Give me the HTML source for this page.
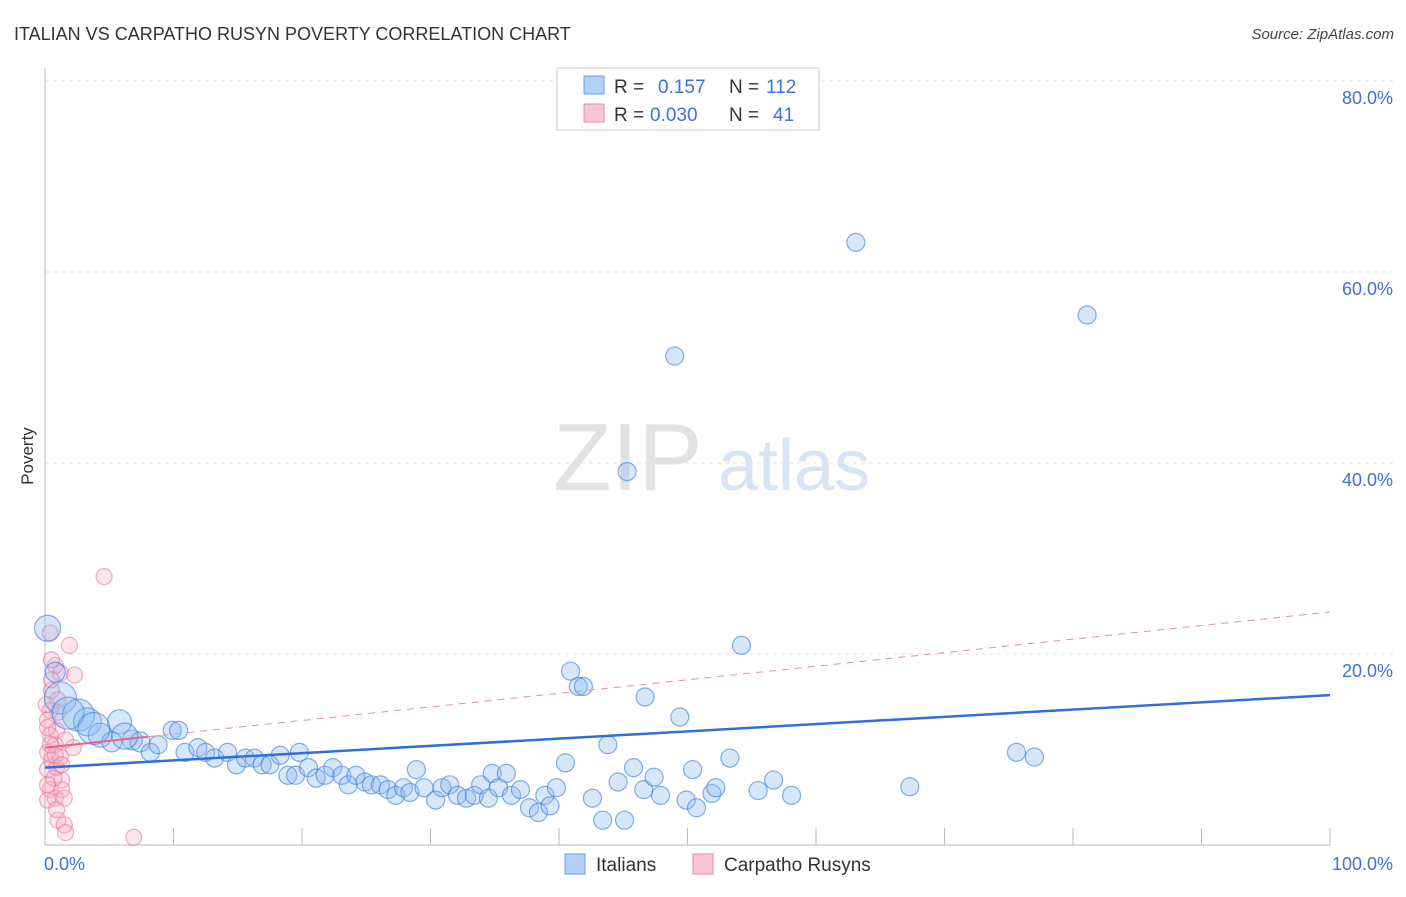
<!DOCTYPE html>
<html><head><meta charset="utf-8"><style>
body{margin:0;background:#fff;font-family:"Liberation Sans",sans-serif;}
svg text{font-family:"Liberation Sans",sans-serif;}
</style></head><body>
<svg id="chart" width="1406" height="892" xmlns="http://www.w3.org/2000/svg">
<text x="14" y="40" font-size="18" fill="#333">ITALIAN VS CARPATHO RUSYN POVERTY CORRELATION CHART</text>
<text x="1394" y="39" font-size="15" fill="#444" text-anchor="end" font-style="italic">Source: ZipAtlas.com</text>
<text x="553" y="490" font-size="96" fill="#e2e2e2" font-family="Liberation Serif">ZIP</text>
<text x="718" y="490" font-size="72" fill="#d6e4f6">atlas</text>
<text x="33" y="456" font-size="17" fill="#333" text-anchor="middle" transform="rotate(-90 33 456)">Poverty</text>
<g id="grid"></g><g id="axes"></g><g id="pts"></g><g id="lines"></g>
<g>
<rect x="557" y="68" width="262" height="62" fill="#fff" stroke="#ccc"/>
<rect x="584" y="76" width="20" height="18" fill="#b3cff5" stroke="#6d9de0"/>
<text x="614" y="93" font-size="19" fill="#333">R = </text><text x="658" y="93" font-size="19" fill="#3d72d6">0.157</text>
<text x="729" y="93" font-size="19" fill="#333">N = </text><text x="766" y="93" font-size="19" fill="#3d72d6">112</text>
<rect x="584" y="104" width="20" height="18" fill="#f9c6d4" stroke="#e98aa8"/>
<text x="614" y="121" font-size="19" fill="#333">R = </text><text x="650" y="121" font-size="19" fill="#3d72d6">0.030</text>
<text x="729" y="121" font-size="19" fill="#333">N = </text><text x="773" y="121" font-size="19" fill="#3d72d6">41</text>
</g>
<g>
<rect x="565" y="854" width="20" height="20" fill="#b3cff5" stroke="#6d9de0"/>
<text x="596" y="871" font-size="19" fill="#333">Italians</text>
<rect x="693" y="854" width="20" height="20" fill="#f9c6d4" stroke="#e98aa8"/>
<text x="724" y="871" font-size="19" fill="#333">Carpatho Rusyns</text>
</g>
</svg>
<script>
const yTicks=[20,40,60,80];
const yTickLabels=["20.0%","40.0%","60.0%","80.0%"];
const xTicks=[0,10,20,30,40,50,60,70,80,90,100];
const blueX=[0.2,0.8,1.2,2.6,3.3,4.3,5.2,5.8,6.8,7.4,8.2,8.8,9.9,10.4,10.9,11.9,12.5,13.2,14.2,14.9,15.6,16.3,16.9,17.5,18.3,18.9,19.5,19.8,20.5,21.1,21.8,22.4,23.1,23.6,24.2,24.9,25.4,26.1,26.7,27.3,27.9,28.4,28.9,29.5,30.4,30.9,31.5,32.1,32.8,33.4,33.9,34.5,34.8,35.3,35.9,36.3,37.0,37.7,38.4,38.9,39.3,39.8,40.5,40.9,41.5,41.9,42.6,43.4,43.8,44.6,45.1,45.8,46.6,46.7,47.4,47.9,49.0,49.4,49.9,50.4,50.7,51.9,52.2,53.3,54.2,55.5,56.7,58.1,63.1,67.3,75.6,77.0,81.1,45.3,1.8,3.8,6.2];
const blueY=[22.7,18.1,15.4,13.6,12.9,11.5,10.8,12.9,11.0,10.8,9.7,10.5,12.0,12.0,9.7,10.2,9.7,9.1,9.7,8.4,9.1,9.1,8.4,8.4,9.4,7.3,7.3,9.7,8.1,7.0,7.3,8.1,7.3,6.3,7.3,6.6,6.3,6.3,5.8,5.2,6.0,5.5,7.9,6.0,4.7,6.0,6.3,5.2,4.9,5.2,6.3,4.9,7.5,6.0,7.5,5.2,5.8,3.9,3.4,5.2,4.1,6.0,8.6,18.2,16.6,16.6,4.9,2.6,10.5,6.6,2.6,8.1,5.8,15.5,7.1,5.2,51.2,13.4,4.7,7.9,3.9,5.4,6.0,9.1,20.9,5.7,6.8,5.2,63.1,6.1,9.7,9.2,55.5,39.1,13.8,12.2,11.4];
const blueSize=[13,10,16,16,14,12,10,12,10,10,9,9,9,9,9,9,9,9,9,9,9,9,9,9,9,9,9,9,9,9,9,9,9,9,9,9,9,9,9,9,9,9,9,9,9,9,9,9,9,9,9,9,9,9,9,9,9,9,9,9,9,9,9,9,9,9,9,9,9,9,9,9,9,9,9,9,9,9,9,9,9,9,9,9,9,9,9,9,9,9,9,9,9,9,16,16,13];
const pinkX=[0.4,0.8,0.5,1.0,1.2,0.2,0.4,0.8,0.5,0.2,0.9,1.3,0.4,0.8,1.3,1.0,1.5,1.6,1.9,2.3,2.2,4.6,6.9,0.4,0.2,1.2,0.7,0.2,1.5,0.9,0.4,1.0,0.1,0.5,1.6,0.2,0.8,1.3,0.2,0.9,0.5];
const pinkY=[22.2,18.8,16.2,15.2,18.0,13.1,11.5,10.5,8.9,7.9,8.1,6.8,5.8,4.9,5.8,2.6,2.1,1.3,20.9,17.8,10.2,28.1,0.8,14.1,9.7,9.2,7.0,4.7,4.9,12.0,10.5,13.9,14.7,17.3,11.0,12.3,9.4,8.4,6.3,3.7,19.4];
const blueTrend=[8.1,15.7];
const pinkTrend=[10.2,24.4];
const NS="http://www.w3.org/2000/svg";
const X=v=>45+v*12.85, Y=v=>845-v*9.55;
function mk(tag,attrs,parent){const e=document.createElementNS(NS,tag);for(const k in attrs)e.setAttribute(k,attrs[k]);document.getElementById(parent).appendChild(e);return e;}
yTicks.forEach((t,i)=>{
 const g=mk('line',{x1:45,x2:1395,y1:Y(t),y2:Y(t),stroke:'#e2e2e2','stroke-dasharray':'4,4'},'grid');
 
 
 const tx=mk('text',{x:1393,y:Y(t)+23,'font-size':18,fill:'#3d72d6','text-anchor':'end'},'grid');
 tx.textContent=yTickLabels[i];
 
 
});
const ax=mk('path',{d:'M45,68V845H1330',stroke:'#bbb',fill:'none'},'axes');


xTicks.forEach(t=>{if(t===0)return;
 const l=mk('line',{x1:X(t),x2:X(t),y1:828,y2:845,stroke:'#bbb'},'axes');
 
 
});
const xl0=mk('text',{x:44,y:870,'font-size':18,fill:'#3d72d6'},'axes');xl0.textContent='0.0%';


const xl1=mk('text',{x:1393,y:870,'font-size':18,fill:'#3d72d6','text-anchor':'end'},'axes');xl1.textContent='100.0%';


pinkX.forEach((v,i)=>{
 const c=mk('circle',{cx:X(v),cy:Y(pinkY[i]),r:8,fill:'rgba(244,170,195,0.3)',stroke:'rgba(232,120,155,0.6)','stroke-width':1.2},'pts');
 
 
});
blueX.forEach((v,i)=>{
 const c=mk('circle',{cx:X(v),cy:Y(blueY[i]),r:blueSize[i]||9,fill:'rgba(140,185,240,0.35)',stroke:'rgba(70,130,220,0.65)','stroke-width':1.2},'pts');
 
 
});
const pl=mk('line',{x1:X(0),y1:Y(pinkTrend[0]),x2:X(100),y2:Y(pinkTrend[1]),stroke:'#e98aa8','stroke-dasharray':'7,6','stroke-width':1},'lines');


const ps=mk('line',{x1:X(0),y1:Y(pinkTrend[0]),x2:X(8),y2:Y(pinkTrend[0]+(pinkTrend[1]-pinkTrend[0])*0.08),stroke:'#e06890','stroke-width':2},'lines');


const bl=mk('line',{x1:X(0),y1:Y(blueTrend[0]),x2:X(100),y2:Y(blueTrend[1]),stroke:'#2f6fd6','stroke-width':2.5},'lines');


</script>
</body></html>
